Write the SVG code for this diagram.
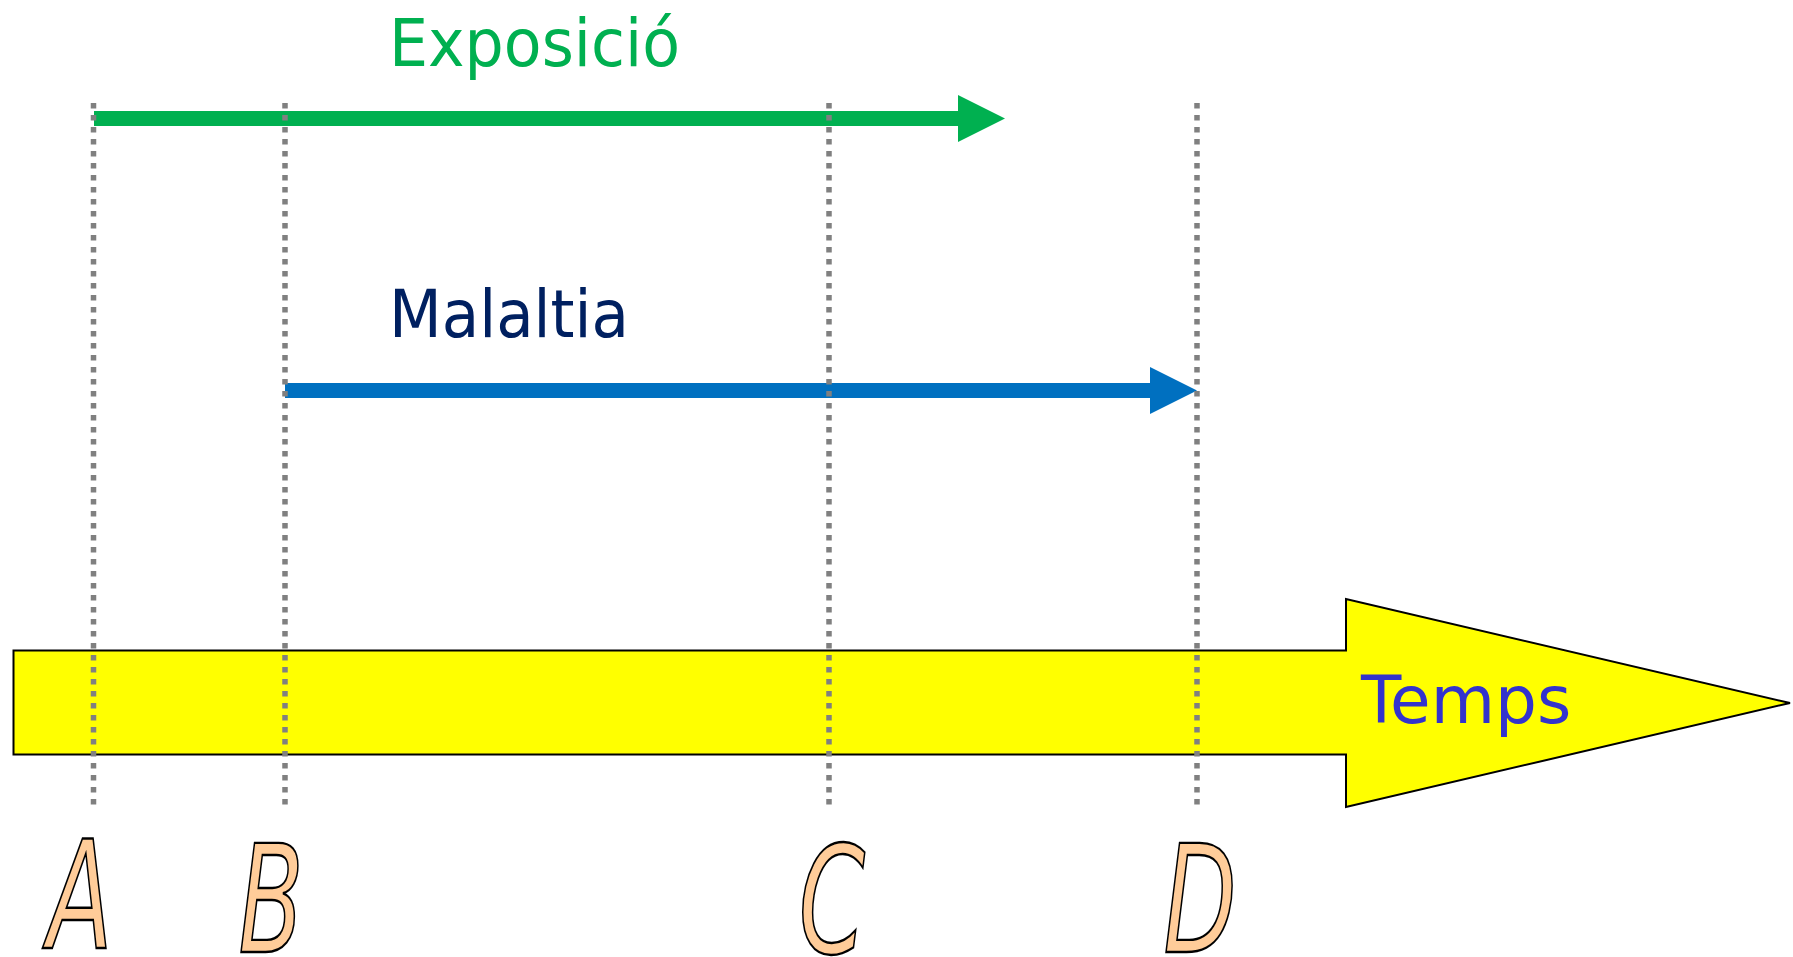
<svg xmlns="http://www.w3.org/2000/svg" width="1793" height="957" viewBox="0 0 1793 957">
<style>
.lbl{font-family:"DejaVu Sans","Liberation Sans",sans-serif;font-size:66px}
.dot{stroke:#808080;stroke-width:5.5;stroke-dasharray:5.5 6.5;fill:none}
.letter{font-family:"DejaVu Sans","Liberation Sans",sans-serif;font-style:oblique;font-size:100px;fill:#FFCC99;stroke:#000;stroke-width:2;vector-effect:non-scaling-stroke;text-anchor:middle}
</style>
<rect width="1793" height="957" fill="#fff"/>
<g id="timeline">
<polygon points="13.5,650.5 1346,650.5 1346,599 1790,703 1346,807 1346,754.5 13.5,754.5" fill="#FFFF00" stroke="#000" stroke-width="2"/>
<text class="lbl" x="1361" y="723" fill="#3333CC">Temps</text>
</g>
<g id="exposicio">
<text class="lbl" x="389" y="66" fill="#00B050" textLength="291" lengthAdjust="spacingAndGlyphs">Exposició</text>
</g>
<g id="malaltia">
<text class="lbl" x="389" y="337" fill="#002060" textLength="240" lengthAdjust="spacingAndGlyphs">Malaltia</text>
</g>
<g id="connectors">
<rect x="94" y="111" width="866" height="15" fill="#00B050"/>
<polygon points="958,95 1005,118.5 958,142" fill="#00B050"/>
<rect x="285" y="383" width="867" height="15" fill="#0070C0"/>
<polygon points="1150,367 1197,390.5 1150,414" fill="#0070C0"/>
</g>
<g id="guides">
<line class="dot" x1="93.5" y1="103" x2="93.5" y2="806"/>
<line class="dot" x1="285" y1="103" x2="285" y2="806"/>
<line class="dot" x1="829" y1="103" x2="829" y2="806"/>
<line class="dot" x1="1197" y1="103" x2="1197" y2="806"/>
</g>
<g id="label-A"><text class="letter" transform="translate(80,948) scale(0.95,1.5)">A</text></g>
<g id="label-B"><text class="letter" transform="translate(271,952) scale(0.95,1.5)">B</text></g>
<g id="label-C"><text class="letter" transform="translate(832,953) scale(0.95,1.5)">C</text></g>
<g id="label-D"><text class="letter" transform="translate(1200,952) scale(0.95,1.5)">D</text></g>
</svg>
